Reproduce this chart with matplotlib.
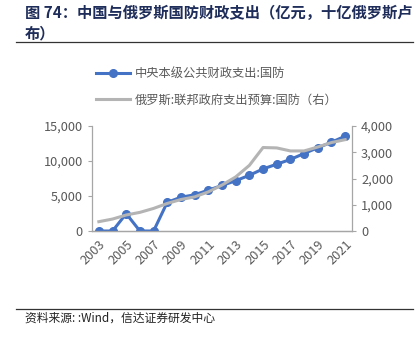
import numpy as np
import matplotlib
matplotlib.use("Agg")
import matplotlib.pyplot as plt
from matplotlib.lines import Line2D

plt.rcParams['font.family'] = ['Noto Sans CJK SC', 'DejaVu Sans']

years = [str(y) for y in range(2003, 2022)]
china_defense = [0, 0, 2475, 0, 0, 4099, 4825, 5176, 5836, 6506, 7177,
                 7961, 8868, 9544, 10226, 11070, 11896, 12680, 13553]
russia_defense = [355, 455, 610, 710, 860, 1050, 1200, 1300, 1490, 1750,
                  2060, 2500, 3180, 3165, 3050, 3050, 3200, 3370, 3480]
left_ticks = [0, 5000, 10000, 15000]
right_ticks = [0, 1000, 2000, 3000, 4000]

BLUE = "#4472C4"
GREY = "#B4B4B4"
TICK_COLOR = "#595959"

fig = plt.figure(figsize=(4.2, 3.38), dpi=100)
ax = fig.add_axes([92 / 420, 1 - 231 / 338, 260 / 420, 105 / 338])
ax2 = ax.twinx()

x = np.arange(len(years))
ax.plot(x, china_defense, color=BLUE, lw=2.2, marker='o', ms=5.5, zorder=3)
ax2.plot(x, russia_defense, color=GREY, lw=2.2, zorder=4)

ax.set_xlim(-0.5, len(years) - 0.5)
ax.set_ylim(0, 15000)
ax2.set_ylim(0, 4000)
ax.set_yticks(left_ticks)
ax2.set_yticks(right_ticks)
ax.set_yticklabels([f"{v:,}" for v in left_ticks])
ax2.set_yticklabels([f"{v:,}" for v in right_ticks])
ax.set_xticks(x[::2])
ax.set_xticklabels(years[::2], rotation=45, ha='right', va='top',
                   rotation_mode='anchor')

for a in (ax, ax2):
    a.spines['top'].set_visible(False)
    for s in ('left', 'right', 'bottom'):
        a.spines[s].set_color("#A6A6A6")
        a.spines[s].set_linewidth(0.9)
    a.tick_params(colors=TICK_COLOR, labelsize=9.2, length=3, width=0.8,
                  color="#A6A6A6")
ax.spines['right'].set_visible(False)
ax2.spines['left'].set_visible(False)
ax.tick_params(axis='x', length=0, pad=5)

# legend
handles = [Line2D([], [], color=BLUE, lw=2.2, marker='o', ms=5.5),
           Line2D([], [], color=GREY, lw=2.2)]
labels = ["中央本级公共财政支出:国防", "俄罗斯:联邦政府支出预算:国防（右）"]
fig.legend(handles, labels, loc='upper left',
           bbox_to_anchor=(96 / 420, 1 - 67 / 338), frameon=False,
           fontsize=8.8, labelcolor=TICK_COLOR, handlelength=2.8,
           labelspacing=1.1, handletextpad=0.4, borderaxespad=0,
           borderpad=0)

# title
fig.text(25 / 420, 1 - 13 / 338, "图 74：中国与俄罗斯国防财政支出（亿元，十亿俄罗斯卢",
         fontsize=11, fontweight='bold', color="#1F2D5A", va='center')
fig.text(25 / 420, 1 - 33 / 338, "布）",
         fontsize=11, fontweight='bold', color="#1F2D5A", va='center')
fig.add_artist(Line2D([16 / 420, 413 / 420], [1 - 42 / 338, 1 - 42 / 338],
                      color="#333333", lw=0.9))

# footer
fig.add_artist(Line2D([16 / 420, 413 / 420], [1 - 309 / 338, 1 - 309 / 338],
                      color="#333333", lw=0.9))
fig.text(25 / 420, 1 - 318 / 338, "资料来源: :Wind，信达证券研发中心",
         fontsize=8.5, style='italic', color="#222222", va='center')

fig.savefig("out.png", dpi=100)
